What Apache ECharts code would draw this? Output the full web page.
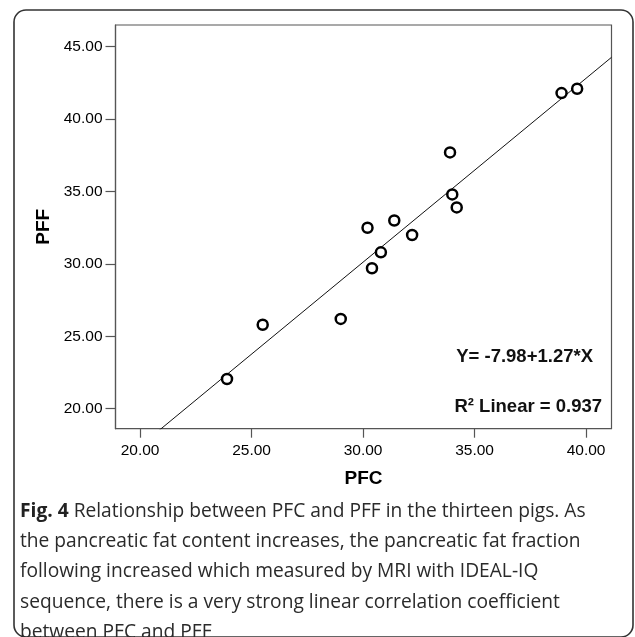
<!DOCTYPE html>
<html>
<head>
<meta charset="utf-8">
<script src="https://cdn.jsdelivr.net/npm/echarts@6/dist/echarts.min.js"></script>
<style>
  html, body { margin: 0; padding: 0; background: #fff; }
  #main { width: 635px; height: 637px; }
</style>
</head>
<body>
<div id="main"></div>
<script>
// data
var pfc = [23.9, 25.5, 29.0, 30.2, 30.4, 30.8, 31.4, 32.2, 34.2, 34.0, 33.9, 38.9, 39.6];
var pff = [22.05, 25.8, 26.2, 32.5, 29.7, 30.8, 33.0, 32.0, 33.9, 34.8, 37.7, 41.8, 42.1];
var xTicks = [20, 25, 30, 35, 40];
var yTicks = [20, 25, 30, 35, 40, 45];
var fitIntercept = -7.98;
var fitSlope = 1.27;
var rSquared = 0.937;

var xMin = 18.90, xMax = 41.14, yMin = 18.62, yMax = 46.5;

var points = [];
for (var i = 0; i < pfc.length; i++) points.push([pfc[i], pff[i]]);

var fitLine = [
  [xMin, fitIntercept + fitSlope * xMin],
  [xMax, fitIntercept + fitSlope * xMax]
];

var chart = echarts.init(document.getElementById('main'));

var option = {
  backgroundColor: '#fff',
  animation: false,
  grid: {
    left: 115.5,
    right: 23.5,
    top: 25,
    bottom: 208.3,
    show: true,
    borderColor: '#555',
    borderWidth: 1.2
  },
  xAxis: {
    type: 'value',
    min: xMin,
    max: xMax,
    name: 'PFC',
    nameLocation: 'middle',
    nameGap: 41,
    nameTextStyle: { fontFamily: 'Liberation Sans', fontWeight: 'bold', fontSize: 19, color: '#000' },
    splitLine: { show: false },
    axisLine: { lineStyle: { color: '#555', width: 1.2 } },
    axisTick: { customValues: xTicks, length: 9, lineStyle: { color: '#555', width: 1.2 } },
    axisLabel: {
      customValues: xTicks,
      margin: 14,
      fontFamily: 'Liberation Sans',
      fontSize: 15.5,
      color: '#000',
      formatter: function (v) { return v.toFixed(2); }
    }
  },
  yAxis: {
    type: 'value',
    min: yMin,
    max: yMax,
    name: 'PFF',
    nameLocation: 'middle',
    nameGap: 61,
    nameTextStyle: { fontFamily: 'Liberation Sans', fontWeight: 'bold', fontSize: 19, color: '#000' },
    splitLine: { show: false },
    axisLine: { lineStyle: { color: '#555', width: 1.2 } },
    axisTick: { customValues: yTicks, length: 10, lineStyle: { color: '#555', width: 1.2 } },
    axisLabel: {
      customValues: yTicks,
      margin: 13,
      fontFamily: 'Liberation Sans',
      fontSize: 15.5,
      color: '#000',
      formatter: function (v) { return v.toFixed(2); }
    }
  },
  series: [
    {
      type: 'line',
      data: fitLine,
      symbol: 'none',
      clip: true,
      lineStyle: { color: '#111', width: 1 },
      z: 2
    },
    {
      type: 'scatter',
      data: points,
      symbol: 'circle',
      symbolSize: 10,
      itemStyle: { color: '#fff', borderColor: '#000', borderWidth: 2.5, opacity: 1 },
      z: 3
    }
  ],
  graphic: [
    {
      type: 'rect',
      shape: { x: 14, y: 10, width: 619, height: 627, r: 12 },
      style: { fill: 'none', stroke: '#333', lineWidth: 1.6 },
      silent: true
    },
    {
      type: 'text',
      right: 42,
      top: 347,
      style: {
        text: 'Y= ' + fitIntercept.toFixed(2) + '+' + fitSlope.toFixed(2) + '*X',
        fontFamily: 'Liberation Sans',
        fontWeight: 'bold',
        fontSize: 18.5,
        fill: '#111'
      }
    },
    {
      type: 'text',
      right: 33,
      top: 397,
      style: {
        text: 'R² Linear = ' + rSquared.toFixed(3),
        fontFamily: 'Liberation Sans',
        fontWeight: 'bold',
        fontSize: 18.5,
        fill: '#111'
      }
    },
    {
      type: 'text',
      left: 20,
      top: 496,
      style: {
        text: '{b|Fig. 4} Relationship between PFC and PFF in the thirteen pigs. As\n' +
              'the pancreatic fat content increases, the pancreatic fat fraction\n' +
              'following increased which measured by MRI with IDEAL-IQ\n' +
              'sequence, there is a very strong linear correlation coefficient\n' +
              'between PFC and PFF',
        fontFamily: 'Open Sans',
        fontSize: 19.2,
        lineHeight: 30.3,
        fill: '#2a2a2a',
        rich: {
          b: { fontFamily: 'Open Sans', fontWeight: 'bold', fontSize: 19.2, lineHeight: 30.3, fill: '#222' }
        }
      }
    }
  ]
};

chart.setOption(option);
</script>
</body>
</html>
